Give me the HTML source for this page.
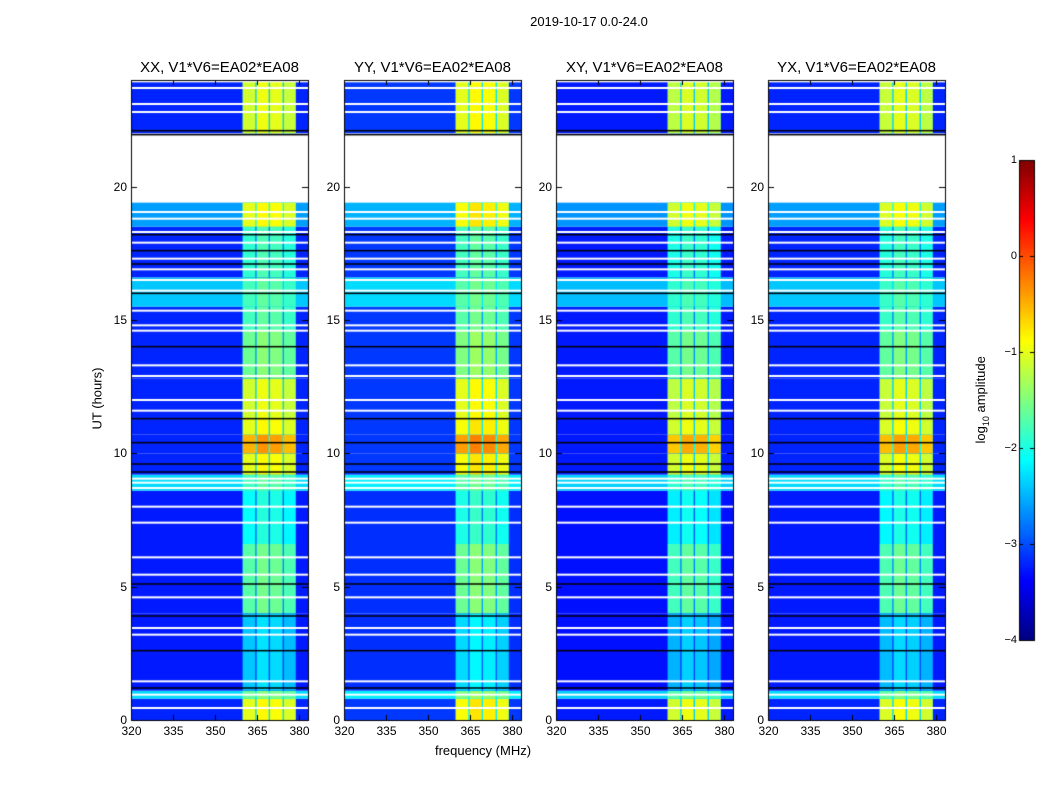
<!DOCTYPE html>
<html><head><meta charset="utf-8"><style>
body{margin:0;background:#fff;width:1050px;height:800px;position:relative;overflow:hidden;font-family:"Liberation Sans",sans-serif;}
.t{position:absolute;white-space:nowrap;color:#000;}
canvas{position:absolute;}
</style></head><body>
<div class="t" style="left:489px;top:14px;width:200px;text-align:center;font-size:13px;">2019-10-17 0.0-24.0</div>
<div class="t" style="left:383px;top:743px;width:200px;text-align:center;font-size:13px;">frequency (MHz)</div>
<div class="t" style="left:47px;top:391px;width:100px;text-align:center;font-size:13px;transform:rotate(-90deg);">UT (hours)</div>
<div class="t" style="left:922px;top:391px;width:120px;text-align:center;font-size:13px;transform:rotate(-90deg);">log<sub style="font-size:9px">10</sub> amplitude</div>
<canvas id="cv" width="1050" height="800" style="left:0;top:0"></canvas>
<div id="labels"></div>
<script>
const panelTitles=["XX, V1*V6=EA02*EA08","YY, V1*V6=EA02*EA08","XY, V1*V6=EA02*EA08","YX, V1*V6=EA02*EA08"];
const panelLeft=[131,344,556,768];
const xTicks=[320,335,350,365,380];
const yTicks=[0,5,10,15,20];
const cbTicks=[1,0,-1,-2,-3,-4];
const segStart=[0,0.8,1.1,4.0,6.6,8.6,9.2,10.0,10.7,11.3,12.8,14.6,15.5,16.6,18.5,19.4,22.0];
const segEnd=[0.8,1.1,4.0,6.6,8.6,9.2,10.0,10.7,11.3,12.8,14.6,15.5,16.6,18.5,19.4,22.0,24.0];
const segBg=[-3.2,-2.3,-3.25,-3.25,-3.25,-2.3,-3.2,-3.2,-3.2,-3.2,-3.2,-3.2,-2.4,-3.2,-2.6,null,-3.2];
const segBand=[-1.0,-1.6,-2.4,-1.7,-2.1,-1.8,-1.0,-0.5,-1.0,-1.1,-1.6,-1.8,-1.8,-1.9,-1.0,null,-1.1];
const panelBandOffset=[0,0.1,-0.1,-0.05];
const panelBgOffset=[0,0.1,-0.05,0];
const subStart=[360,365,369.8,374.8];
const subEnd=[364.5,369.3,374.3,379];
const subBoost=[0,0.15,0.1,-0.05];
const whiteRows=[0.45,0.95,1.45,3.2,3.45,4.6,5.45,6.1,7.4,8.0,8.7,8.9,9.05,11.6,12.0,12.9,13.3,14.6,14.8,15.35,16.1,16.5,16.9,17.3,17.9,18.3,18.8,19.05,22.8,23.1,23.7,23.95];
const blackRows=[1.2,2.6,3.9,5.1,9.3,9.6,10.4,11.3,14.0,16.0,17.1,17.6,18.2,21.95,22.1];

const W=177,TOP=80,BOT=720,FMIN=320,FMAX=383.4,HMAX=24;
function xs(p,f){return panelLeft[p]+(f-FMIN)/(FMAX-FMIN)*W;}
function ys(h){return BOT-h/HMAX*(BOT-TOP);}
function jet(v){let t=(v+4)/5;t=Math.max(0,Math.min(1,t));
 const r=Math.min(1,Math.max(0,Math.min(4*t-1.5,-4*t+4.5)));
 const g=Math.min(1,Math.max(0,Math.min(4*t-0.5,-4*t+3.5)));
 const b=Math.min(1,Math.max(0,Math.min(4*t+0.5,-4*t+2.5)));
 return `rgb(${Math.round(r*255)},${Math.round(g*255)},${Math.round(b*255)})`;}
const ctx=document.getElementById('cv').getContext('2d');
const L=document.getElementById('labels');
function lab(txt,x,y,w,al,fs,name){const d=document.createElement('div');d.className='t';
 
 
 d.style.left=x+'px';d.style.top=y+'px';d.style.width=w+'px';d.style.textAlign=al;d.style.fontSize=fs+'px';d.textContent=txt;L.appendChild(d);}
for(let p=0;p<4;p++){
 const x0=panelLeft[p];
 for(let s=0;s<segStart.length;s++){
  const y1=ys(segEnd[s]),y0=ys(segStart[s]);
  if(segBg[s]===null){continue;}
  ctx.fillStyle=jet(segBg[s]+panelBgOffset[p]);
  ctx.fillRect(x0,y1,W,y0-y1);
  ctx.fillStyle=jet((segBg[s]+segBand[s])/2+panelBgOffset[p]-0.2);
  ctx.fillRect(xs(p,subStart[0]),y1,xs(p,subEnd[3])-xs(p,subStart[0]),y0-y1);
  for(let k=0;k<subStart.length;k++){
   ctx.fillStyle=jet(segBand[s]+panelBandOffset[p]+subBoost[k]);
   ctx.fillRect(xs(p,subStart[k]),y1,xs(p,subEnd[k])-xs(p,subStart[k]),y0-y1);
  }
 }
 ctx.fillStyle='#fff';
 whiteRows.forEach(h=>ctx.fillRect(x0,ys(h)-1,W,2));
 ctx.fillStyle='#000';
 blackRows.forEach(h=>ctx.fillRect(x0,ys(h)-0.75,W,1.5));
 ctx.strokeStyle='#000';ctx.lineWidth=1;
 ctx.strokeRect(x0+0.5,TOP+0.5,W,BOT-TOP);
 xTicks.forEach(f=>{const x=Math.round(xs(p,f))+0.5;ctx.beginPath();ctx.moveTo(x,BOT);ctx.lineTo(x,BOT-5);ctx.moveTo(x,TOP);ctx.lineTo(x,TOP+5);ctx.stroke();
  lab(String(f),x-20,724,40,'center',12,'x-tick-label');});
 yTicks.forEach(h=>{const y=Math.round(ys(h))+0.5;ctx.beginPath();ctx.moveTo(x0,y);ctx.lineTo(x0+6,y);ctx.moveTo(x0+W,y);ctx.lineTo(x0+W-6,y);ctx.stroke();
  lab(String(h),x0-44,y-8,40,'right',12,'y-tick-label');});
 lab(panelTitles[p],x0-20,59,W+40,'center',15,'panel-title');
}
// colorbar
const cx=1019,cw=15,ct=160,cb=640;
for(let y=ct;y<cb;y++){ctx.fillStyle=jet(1-(y-ct)/(cb-ct)*5);ctx.fillRect(cx,y,cw,1);}
ctx.strokeStyle='#000';ctx.strokeRect(cx+0.5,ct+0.5,cw,cb-ct);
cbTicks.forEach(v=>{const y=Math.round(ct+(1-v)/5*(cb-ct))+0.5;ctx.beginPath();ctx.moveTo(cx,y);ctx.lineTo(cx+4,y);ctx.moveTo(cx+cw,y);ctx.lineTo(cx+cw-4,y);ctx.stroke();
 lab(v<0?'\u2212'+(-v):String(v),cx-30,y-7,28,'right',11,'colorbar-tick-label');});
</script>
</body></html>
